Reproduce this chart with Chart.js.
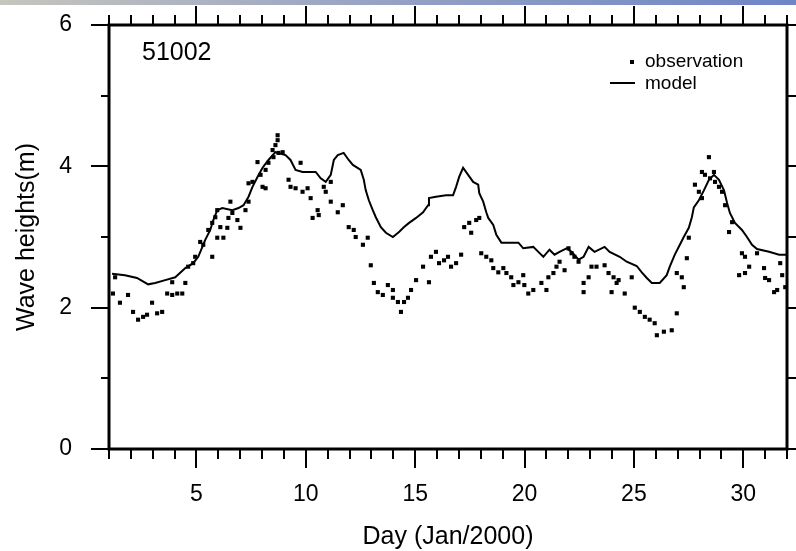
<!DOCTYPE html>
<html>
<head>
<meta charset="utf-8">
<script src="https://cdn.jsdelivr.net/npm/chart.js@4.4.1/dist/chart.umd.min.js"></script>
<style>
  html, body { margin: 0; padding: 0; background: #fff; }
  #wrap { position: relative; width: 796px; height: 551px; }
  #topBar { position: absolute; left: 0; top: 0; width: 796px; height: 5px;
    background: linear-gradient(to right, #c6c6bd, #98a4c4 45%, #6f85c6); }
</style>
</head>
<body>
<div id="wrap">
  <canvas id="waveChart" width="796" height="551"></canvas>
  <div id="topBar"></div>
</div>
<script>
const stationName = "51002";
const seriesLabels = ["observation", "model"];
const xTickLabels = [5, 10, 15, 20, 25, 30];
const yTickLabels = [0, 2, 4, 6];

const modelDays = [1.14,1.73,2.28,2.79,3.11,3.57,4.03,4.49,4.85,5.08,
  5.27,5.40,5.63,5.77,5.95,6.18,6.64,6.92,7.15,7.38,
  7.56,7.79,8.02,8.29,8.61,9.07,9.30,9.53,9.85,10.45,
  10.68,10.91,11.14,11.28,11.46,11.73,11.96,12.15,12.51,12.65,
  12.74,12.88,13.06,13.20,13.43,13.66,13.98,14.26,14.49,14.72,
  15.04,15.36,15.59,15.63,15.95,16.41,16.73,16.87,17.01,17.19,
  17.42,17.65,17.88,17.93,18.11,18.25,18.34,18.57,18.71,18.94,
  19.72,19.94,20.40,20.63,20.86,21.14,21.37,21.60,21.92,22.15,
  22.47,22.70,22.93,23.20,23.66,23.89,24.35,24.67,25.13,25.36,
  25.59,25.82,26.18,26.50,26.64,26.87,27.10,27.28,27.51,27.65,
  27.74,27.97,28.20,28.43,28.66,28.89,29.12,29.26,29.39,29.62,
  29.94,30.17,30.40,30.63,31.18,31.64,32.0];
const modelHeights = [2.48,2.46,2.42,2.33,2.35,2.39,2.43,2.56,2.63,2.72,
  2.86,2.96,3.10,3.24,3.38,3.41,3.38,3.41,3.45,3.57,
  3.71,3.85,3.98,4.09,4.20,4.16,4.09,3.95,3.92,3.92,
  3.83,3.78,3.88,4.09,4.16,4.19,4.09,4.02,3.95,3.81,
  3.66,3.52,3.38,3.28,3.14,3.06,3.00,3.07,3.14,3.20,
  3.27,3.35,3.45,3.55,3.57,3.59,3.59,3.71,3.85,3.98,
  3.88,3.78,3.74,3.62,3.50,3.35,3.27,3.17,3.03,2.92,
  2.92,2.84,2.86,2.79,2.72,2.82,2.75,2.79,2.84,2.79,
  2.68,2.72,2.86,2.79,2.86,2.79,2.72,2.65,2.59,2.50,
  2.42,2.35,2.35,2.46,2.58,2.75,2.89,3.00,3.13,3.28,
  3.42,3.52,3.66,3.81,3.88,3.81,3.66,3.48,3.34,3.20,
  3.10,3.00,2.89,2.83,2.79,2.75,2.75];

const obsDays = [1.18,1.28,1.50,1.87,2.10,2.33,2.56,2.74,2.97,3.20,
  3.43,3.66,3.89,3.89,4.12,4.35,4.49,4.62,4.85,4.94,
  5.17,5.31,5.54,5.72,5.72,5.86,5.95,5.95,6.09,6.23,
  6.41,6.46,6.55,6.64,6.87,7.01,7.24,7.38,7.38,7.56,
  7.79,7.93,8.02,8.16,8.16,8.29,8.48,8.52,8.61,8.71,
  8.71,8.75,8.94,9.21,9.30,9.53,9.76,9.85,10.08,10.22,
  10.31,10.54,10.59,10.82,10.91,11.14,11.14,11.46,11.69,11.96,
  12.19,12.28,12.61,12.83,12.97,13.11,13.29,13.52,13.75,13.98,
  13.98,14.21,14.35,14.49,14.67,14.81,15.04,15.36,15.63,15.72,
  15.95,16.09,16.32,16.50,16.64,16.87,17.10,17.24,17.47,17.56,
  17.79,17.93,18.02,18.25,18.48,18.57,18.80,19.03,19.17,19.39,
  19.49,19.72,19.94,19.99,20.17,20.40,20.77,21.00,21.09,21.32,
  21.46,21.60,21.83,22.01,22.15,22.28,22.47,22.70,22.70,22.93,
  23.06,23.29,23.66,23.84,23.98,24.07,24.21,24.30,24.58,24.90,
  25.04,25.27,25.50,25.72,25.95,26.05,26.37,26.73,26.96,26.96,
  27.19,27.28,27.42,27.51,27.79,27.97,28.11,28.11,28.25,28.43,
  28.48,28.66,28.71,28.89,29.03,29.17,29.35,29.49,29.81,29.94,
  30.08,30.08,30.27,30.63,30.95,31.00,31.18,31.41,31.55,31.69,
  31.78,31.92];
const obsHeights = [2.20,2.43,2.07,2.18,1.94,1.83,1.87,1.90,2.07,1.92,
  1.94,2.20,2.18,2.36,2.20,2.20,2.35,2.58,2.63,2.72,
  2.93,2.89,3.10,2.72,3.20,3.28,3.38,2.99,3.14,2.99,
  3.13,3.27,3.50,3.34,3.24,3.13,3.38,3.50,3.76,3.78,
  4.06,3.88,3.71,3.69,3.95,4.05,4.23,4.13,4.30,4.44,
  4.37,4.19,4.20,3.81,3.71,3.69,4.05,3.64,3.69,3.55,
  3.27,3.38,3.31,3.71,3.64,3.78,3.50,3.35,3.45,3.14,
  3.10,3.00,2.89,2.99,2.60,2.35,2.22,2.18,2.32,2.25,
  2.14,2.08,1.94,2.08,2.14,2.25,2.39,2.58,2.36,2.72,
  2.79,2.63,2.67,2.72,2.58,2.63,2.75,3.14,3.20,3.06,
  3.24,3.27,2.77,2.72,2.67,2.56,2.50,2.56,2.49,2.43,
  2.32,2.36,2.46,2.32,2.20,2.25,2.35,2.25,2.43,2.49,
  2.58,2.65,2.53,2.84,2.77,2.72,2.65,2.35,2.22,2.43,
  2.58,2.58,2.60,2.49,2.22,2.43,2.35,2.39,2.20,2.43,
  2.00,1.94,1.87,1.83,1.78,1.61,1.66,1.68,1.92,2.49,
  2.43,2.29,2.70,2.99,3.74,3.64,3.55,3.92,3.88,4.13,
  3.83,3.92,3.78,3.71,3.64,3.45,3.07,3.21,2.46,2.77,
  2.72,2.49,2.58,2.77,2.56,2.42,2.39,2.22,2.25,2.63,
  2.46,2.29];

const FONT = "'Liberation Sans', Arial, sans-serif";

function toPoints(xs, ys) {
  return xs.map((d, i) => ({ x: d, y: ys[i] }));
}

// frame, tick marks, station label and legend
const frameTicks = {
  id: 'frameTicks',
  afterDraw(chart) {
    const { ctx, chartArea: a, scales: { x, y } } = chart;
    ctx.save();
    ctx.strokeStyle = '#000';
    ctx.fillStyle = '#000';
    ctx.lineWidth = 3;
    ctx.strokeRect(a.left, a.top, a.right - a.left, a.bottom - a.top);

    ctx.lineWidth = 2;
    ctx.beginPath();
    for (let d = 1; d <= 32; d++) {
      const px = Math.round(x.getPixelForValue(d));
      const len = d % 5 === 0 ? 19 : 10;
      ctx.moveTo(px, a.bottom); ctx.lineTo(px, a.bottom + len);
      ctx.moveTo(px, a.top); ctx.lineTo(px, a.top - len);
    }
    for (let v = 0; v <= 6; v++) {
      const py = Math.round(y.getPixelForValue(v));
      const len = v % 2 === 0 ? 18 : 8;
      ctx.moveTo(a.left, py); ctx.lineTo(a.left - len, py);
      ctx.moveTo(a.right, py); ctx.lineTo(a.right + 9, py);
    }
    ctx.stroke();

    ctx.textBaseline = 'middle';
    ctx.textAlign = 'left';
    ctx.font = `25px ${FONT}`;
    ctx.fillText(stationName, 142, 53);

    ctx.font = `19px ${FONT}`;
    ctx.fillRect(630, 60, 4, 4);
    ctx.fillText(seriesLabels[0], 645, 62);
    ctx.beginPath();
    ctx.moveTo(610, 83); ctx.lineTo(635, 83);
    ctx.stroke();
    ctx.fillText(seriesLabels[1], 645, 84);
    ctx.restore();
  }
};

const emptyAxis = {
  type: 'linear',
  grid: { display: false, drawTicks: false },
  border: { display: false },
  ticks: { display: false }
};

new Chart(document.getElementById('waveChart'), {
  type: 'scatter',
  data: {
    datasets: [
      {
        label: seriesLabels[1],
        data: toPoints(modelDays, modelHeights),
        showLine: true,
        borderColor: '#000',
        borderWidth: 2,
        pointRadius: 0,
        tension: 0
      },
      {
        label: seriesLabels[0],
        data: toPoints(obsDays, obsHeights),
        pointStyle: 'rect',
        pointRadius: 2.9,
        backgroundColor: '#000',
        borderColor: '#000',
        borderWidth: 0
      }
    ]
  },
  options: {
    responsive: false,
    animation: false,
    devicePixelRatio: 1,
    layout: { padding: 0 },
    plugins: { legend: { display: false }, tooltip: { enabled: false } },
    scales: {
      x: {
        type: 'linear', min: 1, max: 32,
        afterBuildTicks: s => { s.ticks = xTickLabels.map(v => ({ value: v })); },
        afterFit: s => { s.height = 102; },
        // tick marks are drawn by the plugin; the hidden tick length only spaces the labels
        grid: { display: false, drawTicks: true, tickLength: 32 },
        border: { display: false },
        ticks: { color: '#000', font: { family: FONT, size: 23 }, padding: 0, maxRotation: 0, autoSkip: false },
        title: { display: true, text: 'Day (Jan/2000)', color: '#000',
          font: { family: FONT, size: 25, lineHeight: 1 }, padding: { top: 0, bottom: 1.5 } }
      },
      xTop: Object.assign({}, emptyAxis, {
        position: 'top', min: 1, max: 32,
        afterFit: s => { s.height = 25; }
      }),
      y: {
        type: 'linear', min: 0, max: 6,
        afterBuildTicks: s => { s.ticks = yTickLabels.map(v => ({ value: v })); },
        afterFit: s => { s.width = 109; },
        grid: { display: false, drawTicks: true, tickLength: 37 },
        border: { display: false },
        ticks: { color: '#000', font: { family: FONT, size: 23 }, padding: 0 },
        title: { display: true, text: 'Wave heights(m)', color: '#000',
          font: { family: FONT, size: 25, lineHeight: 1 }, padding: { top: 14.5, bottom: 0 } }
      },
      yRight: Object.assign({}, emptyAxis, {
        position: 'right', min: 0, max: 6,
        afterFit: s => { s.width = 9; }
      })
    }
  },
  plugins: [frameTicks]
});
</script>
</body>
</html>
